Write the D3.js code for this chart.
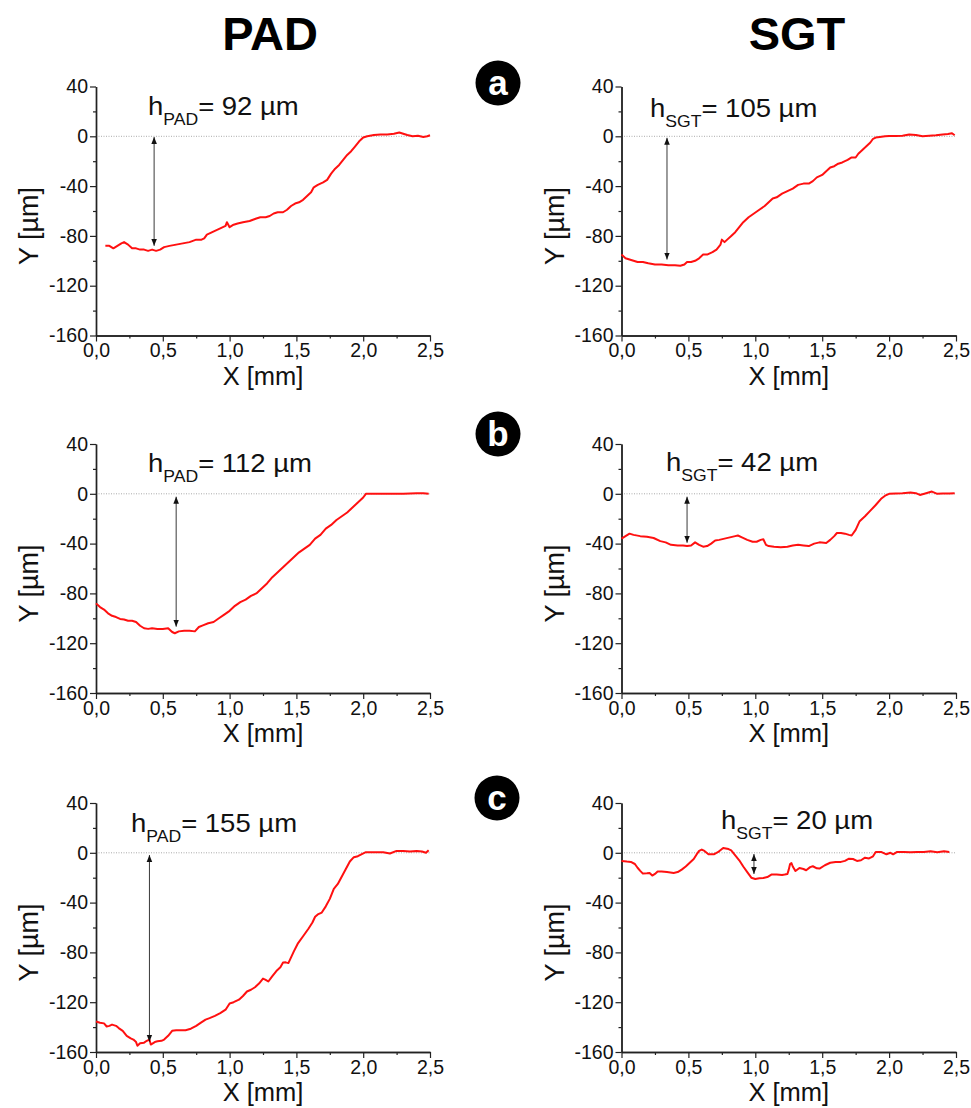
<!DOCTYPE html>
<html><head><meta charset="utf-8">
<script src="https://cdn.jsdelivr.net/npm/d3@7"></script>
<style>
body{margin:0;background:#fff}
svg{display:block}
text{font-family:"Liberation Sans",Arial,Helvetica,sans-serif}
</style>
</head><body>
<svg id="chart" width="971" height="1108"></svg>
<script>
// ---------- data ----------
const columnTitles = ["PAD", "SGT"];
const rowLabels = ["a", "b", "c"];
const xTicks = [0, 0.5, 1.0, 1.5, 2.0, 2.5];
const xMinorTicks = [0.25, 0.75, 1.25, 1.75, 2.25];
const yTicks = [40, 0, -40, -80, -120, -160];
const yMinorTicks = [20, -20, -60, -100, -140];
const xTitle = "X [mm]";
const yTitle = "Y [µm]";

const hSubs   = ["PAD", "SGT", "PAD", "SGT", "PAD", "SGT"];
const hValues = ["92", "105", "112", "42", "155", "20"];
const arrowX    = [0.435, 0.34, 0.60, 0.49, 0.40, 0.99];
const arrowTop  = [-0.6, -1.2, -2.3, -2.3, -1.8, -1.0];
const arrowBot  = [-88, -99, -106.7, -39.3, -151.7, -17];

const xPadA = [0.07,0.10,0.13,0.16,0.19,0.21,0.24,0.27,0.30,0.33,0.36,0.39,0.42,0.45,0.48,0.51,0.55,0.60,0.65,0.70,0.75,0.79,0.81,0.83,0.87,0.91,0.95,0.97,0.98,1.00,1.03,1.06,1.10,1.15,1.20,1.23,1.27,1.30,1.33,1.36,1.40,1.43,1.46,1.49,1.52,1.55,1.58,1.61,1.63,1.66,1.70,1.73,1.76,1.79,1.82,1.85,1.88,1.91,1.94,1.97,2.00,2.03,2.08,2.13,2.18,2.23,2.27,2.30,2.33,2.37,2.41,2.45,2.48,2.50];
const yPadA = [-88,-88,-90,-88,-86,-85,-87,-90,-90,-91,-91,-92,-91,-92,-91,-89,-88,-87,-86,-85,-83,-83,-82,-79,-77,-75,-73,-72,-69,-73,-71,-70,-69,-68,-66,-65,-65,-64,-62,-61,-61,-59,-56,-54,-53,-51,-48,-45,-41,-39,-37,-35,-30,-26,-23,-19,-15,-12,-8,-4,-1,0,1,1.5,1.5,2,3,2,1,0,0.5,-0.5,0,0.8];

const xSgtA = [0,0.03,0.06,0.09,0.12,0.16,0.2,0.25,0.3,0.35,0.4,0.44,0.47,0.49,0.52,0.55,0.58,0.61,0.64,0.68,0.71,0.74,0.75,0.77,0.79,0.82,0.85,0.88,0.91,0.95,0.99,1.03,1.07,1.10,1.13,1.16,1.20,1.24,1.28,1.32,1.36,1.40,1.43,1.46,1.50,1.53,1.56,1.59,1.62,1.65,1.69,1.72,1.75,1.77,1.80,1.83,1.86,1.88,1.90,1.93,1.97,2.0,2.05,2.1,2.15,2.2,2.25,2.3,2.35,2.4,2.44,2.47,2.49];
const ySgtA = [-95,-98,-99,-100,-101,-101,-102,-103,-103,-103.5,-103.5,-104,-103,-101,-101,-100,-98,-95,-95,-93,-91,-87,-83,-85,-83,-80,-77,-73,-69,-65,-62,-59,-56,-53,-50,-49,-46,-44,-42,-39,-38,-38,-36,-33,-31,-28,-25,-24,-22,-21,-19,-17,-17,-14,-11,-8,-5,-2,-1,-0.5,0,0.3,0.3,0.5,1.5,1,0,0.5,0.8,1.5,1.8,2.4,0.8];

const xPadB = [0,0.03,0.06,0.09,0.12,0.15,0.18,0.21,0.24,0.27,0.30,0.33,0.36,0.39,0.42,0.46,0.50,0.54,0.57,0.59,0.62,0.66,0.70,0.74,0.77,0.80,0.84,0.88,0.92,0.96,1.0,1.04,1.08,1.12,1.16,1.20,1.24,1.28,1.32,1.36,1.40,1.44,1.48,1.52,1.56,1.60,1.64,1.68,1.72,1.76,1.80,1.84,1.88,1.92,1.96,2.0,2.02,2.1,2.2,2.3,2.4,2.45,2.49];
const yPadB = [-88,-91,-93,-96,-98,-99,-100.5,-101,-102,-102,-103,-106,-108,-108.5,-108,-108.5,-108.5,-108,-111,-112,-110.5,-110,-110,-110.5,-107,-105.7,-104,-103,-100,-97,-94,-90,-87,-85,-82,-80,-76,-72,-67,-63,-59,-55,-51,-47,-44,-41,-36,-33,-28,-25,-21,-18,-15,-11,-7,-3,0,0,0,0,0.5,0.5,0];

const xSgtB = [0,0.03,0.06,0.09,0.14,0.19,0.24,0.29,0.33,0.37,0.42,0.46,0.49,0.52,0.55,0.58,0.61,0.64,0.67,0.70,0.73,0.77,0.81,0.85,0.87,0.90,0.94,0.98,1.01,1.04,1.06,1.08,1.10,1.14,1.19,1.24,1.28,1.32,1.36,1.40,1.44,1.48,1.53,1.56,1.59,1.61,1.64,1.67,1.70,1.72,1.75,1.78,1.82,1.86,1.90,1.94,1.97,2.0,2.05,2.1,2.16,2.2,2.23,2.27,2.32,2.36,2.4,2.45,2.49];
const ySgtB = [-36,-34,-32,-33,-34,-34.5,-35.5,-38,-39,-41,-41.5,-41.5,-42,-41.5,-39,-41,-42.5,-42,-40,-37.5,-37,-36,-35,-34,-33.5,-35,-37,-38.5,-38.5,-37,-36.5,-41,-42,-42.5,-43,-42.5,-41.5,-41,-41.5,-42,-40,-39,-39.5,-37,-34,-31.5,-31.5,-32,-33,-33.5,-29,-22,-18,-13.5,-9,-4,-1.5,0,0.3,0.5,1,0.5,-0.9,0.3,1.8,0,0.3,0.2,0.4];

const xPadC = [0,0.03,0.06,0.08,0.10,0.12,0.15,0.17,0.20,0.23,0.26,0.28,0.30,0.31,0.33,0.36,0.38,0.40,0.41,0.44,0.46,0.49,0.51,0.54,0.57,0.60,0.63,0.67,0.71,0.75,0.78,0.82,0.85,0.89,0.93,0.97,1.0,1.03,1.07,1.10,1.13,1.16,1.19,1.22,1.25,1.27,1.29,1.32,1.35,1.38,1.40,1.42,1.44,1.46,1.48,1.51,1.55,1.59,1.62,1.64,1.66,1.69,1.72,1.75,1.78,1.81,1.84,1.87,1.90,1.93,1.96,1.99,2.02,2.08,2.15,2.20,2.25,2.30,2.35,2.40,2.44,2.47,2.49];
const yPadC = [-135.5,-136.5,-137,-139.5,-139,-138,-139,-140.8,-143,-147,-149,-150,-152,-155,-153,-152.5,-151,-150,-154,-152,-151.4,-151,-150,-147,-143,-142.5,-142.6,-142.5,-141.3,-139,-136.8,-134,-132.8,-131,-128.8,-126,-121,-120,-118,-115,-111.4,-110,-108,-105,-101,-102,-103.4,-99,-95,-92,-88.2,-88,-88.6,-84,-79.4,-73,-67,-61,-56,-51.4,-49.5,-48,-43,-37,-29,-25,-19,-13,-7,-3.5,-2.7,-1,0.5,0.5,0.5,-0.6,1.5,1.5,1,1.5,1,0,2];

const xSgtC = [0,0.04,0.07,0.10,0.12,0.14,0.16,0.19,0.21,0.23,0.25,0.27,0.30,0.34,0.39,0.42,0.45,0.48,0.51,0.54,0.56,0.58,0.60,0.62,0.65,0.69,0.72,0.76,0.80,0.82,0.85,0.88,0.91,0.94,0.97,1.0,1.03,1.06,1.09,1.12,1.16,1.20,1.22,1.24,1.25,1.26,1.27,1.28,1.30,1.33,1.36,1.38,1.41,1.43,1.46,1.48,1.52,1.56,1.60,1.64,1.67,1.70,1.73,1.76,1.79,1.82,1.85,1.88,1.90,1.91,1.94,1.98,2.01,2.03,2.06,2.11,2.16,2.21,2.26,2.31,2.36,2.41,2.45,2.49];
const ySgtC = [-6.5,-7,-7.3,-9,-12,-14.5,-16.7,-16.5,-16.2,-18.3,-17,-15,-15,-15.5,-16.2,-15.5,-13.5,-11,-8,-5,-1.5,1.5,2.6,1.5,-1.2,-1.2,0.5,3.9,3,2,-2,-6,-11,-15.5,-20,-21,-20.5,-20.2,-19.5,-17.5,-17.5,-17.8,-17.5,-17,-13.5,-9,-8.2,-11,-14.6,-12.2,-13,-14,-11.5,-10.8,-12.5,-12.7,-10,-8,-7.3,-7.3,-6.5,-4.7,-5,-6.5,-6,-3.9,-4.5,-2.8,0.7,0.7,0.7,-1.2,0,-1.2,0.7,0.7,0.5,0.7,0.7,1.2,0.5,1.2,0.7];

const seriesX = [xPadA, xSgtA, xPadB, xSgtB, xPadC, xSgtC];
const seriesY = [yPadA, ySgtA, yPadB, ySgtB, yPadC, ySgtC];

// ---------- layout ----------
const colX = [[96, 430], [621.5, 956]];
const rowY = [[86.5, 335.5], [444, 693], [803, 1052]];
const textPos = [[148, 115], [650, 117], [148, 472], [666, 471], [131, 832], [721, 829]];
const circlePos = [[498, 83], [498, 434], [497, 798]];

const svg = d3.select("#chart");
const defs = svg.append("defs");
["aEnd", "aStart"].forEach((id, i) => {
  defs.append("marker").attr("id", id)
    .attr("viewBox", "0 0 10 10").attr("refX", 10).attr("refY", 5)
    .attr("markerWidth", 7).attr("markerHeight", 7)
    .attr("markerUnits", "userSpaceOnUse")
    .attr("orient", i === 0 ? "auto" : "auto-start-reverse")
    .append("path").attr("d", "M0,1 L10,5 L0,9 Z").attr("fill", "#111");
});

const fmtX = d => d3.format(".1f")(d).replace(".", ",");

// column titles
columnTitles.forEach((t, i) => {
  svg.append("text").attr("x", i === 0 ? 270 : 797).attr("y", 50)
    .attr("text-anchor", "middle").attr("font-size", 47).attr("font-weight", "bold")
    .attr("fill", "#000").text(t);
});

// row circle labels
rowLabels.forEach((l, i) => {
  const [cx, cy] = circlePos[i];
  svg.append("circle").attr("cx", cx).attr("cy", cy).attr("r", 22.5).attr("fill", "#000");
  svg.append("text").attr("x", cx).attr("y", cy).attr("dy", "0.35em")
    .attr("text-anchor", "middle").attr("font-size", 35).attr("font-weight", "bold")
    .attr("fill", "#fff").text(l);
});

for (let p = 0; p < 6; p++) {
  const row = Math.floor(p / 2), col = p % 2;
  const x = d3.scaleLinear().domain([0, 2.5]).range(colX[col]);
  const y = d3.scaleLinear().domain([-160, 40]).range([rowY[row][1], rowY[row][0]]);
  const g = svg.append("g");

  // zero reference dotted line
  g.append("line").attr("x1", x(0)).attr("x2", x(2.5)).attr("y1", y(0)).attr("y2", y(0))
    .attr("stroke", "#aaa").attr("stroke-width", 1).attr("stroke-dasharray", "1,1.5");

  // axes
  const axStyle = sel => {
    sel.select(".domain").attr("stroke", "#222").attr("stroke-width", 1.4);
    sel.selectAll(".tick line").attr("stroke", "#222").attr("stroke-width", 1.2);
    sel.selectAll(".tick text").attr("fill", "#111").attr("font-size", 19.5)
      .attr("font-family", '"Liberation Sans",Arial,sans-serif');
  };
  g.append("g").attr("transform", `translate(0,${y(-160)})`)
    .call(d3.axisBottom(x).tickValues(xTicks).tickFormat(fmtX).tickSize(6).tickSizeOuter(0).tickPadding(2))
    .call(axStyle);
  g.append("g").attr("transform", `translate(0,${y(-160)})`)
    .call(d3.axisBottom(x).tickValues(xMinorTicks).tickFormat("").tickSize(3).tickSizeOuter(0))
    .call(axStyle);
  g.append("g").attr("transform", `translate(${x(0)},0)`)
    .call(d3.axisLeft(y).tickValues(yTicks).tickFormat(d => String(d)).tickSize(6).tickSizeOuter(0).tickPadding(2))
    .call(axStyle);
  g.append("g").attr("transform", `translate(${x(0)},0)`)
    .call(d3.axisLeft(y).tickValues(yMinorTicks).tickFormat("").tickSize(3).tickSizeOuter(0))
    .call(axStyle);

  // axis titles
  g.append("text").attr("x", (colX[col][0] + colX[col][1]) / 2).attr("y", y(-160) + 49)
    .attr("text-anchor", "middle").attr("font-size", 25.5).attr("fill", "#111").text(xTitle);
  g.append("text").attr("transform", `translate(${x(0) - 58},${(rowY[row][0] + rowY[row][1]) / 2 + 15}) rotate(-90)`)
    .attr("text-anchor", "middle").attr("font-size", 27).attr("fill", "#111").text(yTitle);

  // data line
  const pts = seriesX[p].map((xv, i) => [xv, seriesY[p][i]]);
  g.append("path").datum(pts)
    .attr("d", d3.line().x(d => x(d[0])).y(d => y(d[1])))
    .attr("fill", "none").attr("stroke", "#ff1010").attr("stroke-width", 2).attr("stroke-linejoin", "round");

  // height arrow
  g.append("line").attr("x1", x(arrowX[p])).attr("x2", x(arrowX[p]))
    .attr("y1", y(arrowTop[p])).attr("y2", y(arrowBot[p]))
    .attr("stroke", "#222").attr("stroke-width", 0.9)
    .attr("marker-start", "url(#aStart)").attr("marker-end", "url(#aEnd)");

  // annotation text
  const [tx, ty] = textPos[p];
  const t = g.append("text").attr("transform", `translate(${tx},${ty}) scale(1.1,1)`)
    .attr("font-size", 25).attr("fill", "#111");
  t.append("tspan").text("h");
  t.append("tspan").attr("font-size", 16).attr("dy", 10).text(hSubs[p]);
  t.append("tspan").attr("dy", -10).text("= " + hValues[p] + " µm");
}
</script>
</body></html>
